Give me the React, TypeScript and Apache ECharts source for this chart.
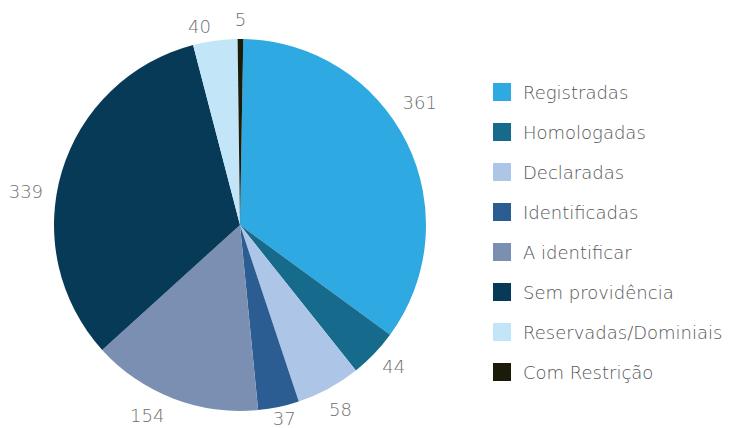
import React, { useEffect, useRef } from "react";
import * as echarts from "echarts";

const categories = [
  "Registradas",
  "Homologadas",
  "Declaradas",
  "Identificadas",
  "A identificar",
  "Sem providência",
  "Reservadas/Dominiais",
  "Com Restrição",
];
const values = [361, 44, 58, 37, 154, 339, 40, 5];
const colors = [
  "#2ea9e1",
  "#166a8b",
  "#adc5e6",
  "#2b5d92",
  "#7a8fb2",
  "#073a57",
  "#c2e5f8",
  "#1c1a08",
];
// label nudges (px) to mimic the original placement
const labelOffsets: [number, number][] = [
  [-11, -28],
  [0, -6],
  [-1, -3],
  [0, -15],
  [-16, -8],
  [-10, 27],
  [-12, 13],
  [0, 7],
];

const FONT = "'DejaVu Sans', sans-serif";

export default function App() {
  const ref = useRef<HTMLDivElement>(null);
  useEffect(() => {
    if (!ref.current) return;
    const chart = echarts.init(ref.current, null, { renderer: "svg" });
    const center = [240, 225];
    chart.setOption({
      animation: false,
      color: colors,
      legend: {
        orient: "vertical",
        left: 488,
        top: 78,
        itemWidth: 18,
        itemHeight: 18,
        itemGap: 22,
        icon: "rect",
        data: categories,
        textStyle: {
          fontFamily: FONT,
          fontWeight: 200,
          fontSize: 18,
          lineHeight: 18,
          color: "#555555",
          padding: [0, 0, 0, 7],
        },
      },
      series: [
        {
          type: "pie",
          center,
          radius: [0, 186],
          startAngle: 89,
          clockwise: true,
          label: { show: false },
          labelLine: { show: false },
          itemStyle: { borderWidth: 0 },
          emphasis: { disabled: true },
          data: categories.map((name, i) => ({
            name,
            value: values[i],
            itemStyle: { color: colors[i] },
          })),
        },
        {
          type: "pie",
          center,
          radius: [190, 230],
          startAngle: 89,
          clockwise: true,
          silent: true,
          emphasis: { disabled: true },
          itemStyle: { color: "rgba(0,0,0,0)", borderWidth: 0 },
          labelLine: { show: false },
          label: {
            show: true,
            position: "inside",
            formatter: "{c}",
            fontFamily: FONT,
            fontWeight: 200,
            fontSize: 18,
            color: "#6e6e6e",
          },
          data: categories.map((name, i) => ({
            name,
            value: values[i],
            itemStyle: { color: "rgba(0,0,0,0)" },
            label: { offset: labelOffsets[i] },
          })),
        },
      ],
    });
    return () => chart.dispose();
  }, []);
  return (
    <div
      ref={ref}
      style={{ position: "absolute", left: 0, top: 0, width: 736, height: 428 }}
    />
  );
}
